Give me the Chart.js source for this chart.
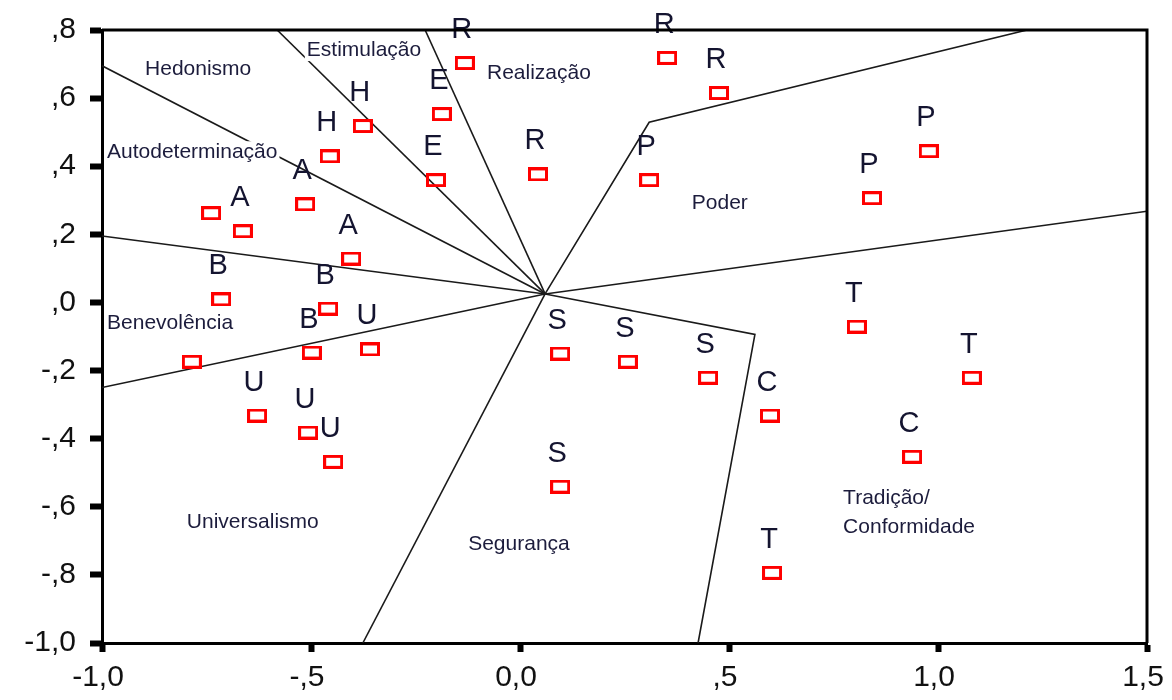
<!DOCTYPE html>
<html>
<head>
<meta charset="utf-8">
<script src="https://cdn.jsdelivr.net/npm/chart.js@4"></script>
<style>
  html, body { margin: 0; padding: 0; background: #fff; }
  #wrap { width: 1172px; height: 700px; }
</style>
</head>
<body>
<div id="wrap"><canvas id="chart" width="1172" height="700"></canvas></div>
<script>
// axis ticks
const xTickValues = [-1.0, -0.5, 0.0, 0.5, 1.0, 1.5];
const xTickLabels = ['-1,0', '-,5', '0,0', ',5', '1,0', '1,5'];
const yTickValues = [-1.0, -0.8, -0.6, -0.4, -0.2, 0.0, 0.2, 0.4, 0.6, 0.8];
const yTickLabels = ['-1,0', '-,8', '-,6', '-,4', '-,2', ',0', ',2', ',4', ',6', ',8'];

// points (value items) and their letters
const pointX = [-0.739, -0.663, -0.514, -0.404, -0.455, -0.376, -0.201, -0.187,
  -0.132, 0.043, 0.352, 0.476, 0.309, 0.842, 0.978,
  -0.715, -0.459, -0.498, -0.785, -0.359, -0.629, -0.507, -0.447,
  0.096, 0.258, 0.450, 0.096, 0.598, 0.938, 0.806, 1.081, 0.603];
const pointY = [0.262, 0.209, 0.288, 0.129, 0.429, 0.518, 0.359, 0.553,
  0.703, 0.376, 0.718, 0.615, 0.359, 0.306, 0.444,
  0.009, -0.018, -0.147, -0.174, -0.138, -0.332, -0.382, -0.468,
  -0.150, -0.174, -0.221, -0.541, -0.332, -0.453, -0.071, -0.221, -0.794];
const pointLetter = ['', 'A', 'A', 'A', 'H', 'H', 'E', 'E',
  'R', 'R', 'R', 'R', 'P', 'P', 'P',
  'B', 'B', 'B', '', 'U', 'U', 'U', 'U',
  'S', 'S', 'S', 'S', 'C', 'C', 'T', 'T', 'T'];

// region boundaries
const centerPt = [0.06, 0.025];
const lineAutoHedon = [[-1.0, 0.695], centerPt];
const lineHedonEstim = [[-0.581, 0.8], centerPt];
const lineEstimReal = [[-0.227, 0.8], centerPt];
const lineRealPoder = [centerPt, [0.309, 0.529], [1.213, 0.8]];
const linePoderTrad = [centerPt, [1.5, 0.268]];
const lineTradSeg = [centerPt, [0.562, -0.094], [0.426, -1.0]];
const lineSegUniv = [centerPt, [-0.376, -1.0]];
const lineUnivBenev = [[-1.0, -0.25], centerPt];
const lineBenevAuto = [[-1.0, 0.195], centerPt];

// region names (left edge, middle)
const regionNames = ['Hedonismo', 'Estimulação', 'Autodeterminação', 'Realização', 'Poder',
  'Benevolência', 'Universalismo', 'Segurança', 'Tradição/', 'Conformidade'];
const regionX = [-0.897, -0.510, -0.988, -0.079, 0.411, -0.988, -0.797, -0.124, 0.773, 0.773];
const regionY = [0.685, 0.741, 0.441, 0.674, 0.291, -0.062, -0.644, -0.709, -0.576, -0.659];

// red hollow box marker
const marker = document.createElement('canvas');
marker.width = 20;
marker.height = 14;
const mctx = marker.getContext('2d');
mctx.strokeStyle = '#ff0000';
mctx.lineWidth = 3;
mctx.strokeRect(1.5, 1.5, 17, 11);

const toXY = pts => pts.map(p => ({ x: p[0], y: p[1] }));
const boundaryLines = [lineAutoHedon, lineHedonEstim, lineEstimReal, lineRealPoder,
  linePoderTrad, lineTradSeg, lineSegUniv, lineUnivBenev, lineBenevAuto];

const lineSets = boundaryLines.map(l => ({
  data: toXY(l),
  showLine: true,
  borderColor: '#1a1a1a',
  borderWidth: 1.6,
  pointRadius: 0,
  fill: false,
  order: 2
}));

const pointSet = {
  data: pointX.map((x, i) => ({ x: x, y: pointY[i] })),
  pointStyle: marker,
  pointRadius: 8,
  showLine: false,
  order: 1
};

const textPlugin = {
  id: 'textPlugin',
  afterDatasetsDraw(chart) {
    const ctx = chart.ctx;
    const xs = chart.scales.x, ys = chart.scales.y;
    ctx.save();
    // region names with white backing
    ctx.font = '21px "Liberation Sans", Arial, sans-serif';
    ctx.textAlign = 'left';
    ctx.textBaseline = 'middle';
    regionNames.forEach((name, i) => {
      const px = xs.getPixelForValue(regionX[i]);
      const py = ys.getPixelForValue(regionY[i]);
      const w = ctx.measureText(name).width;
      ctx.fillStyle = '#ffffff';
      ctx.fillRect(px - 2, py - 11, w + 4, 22);
      ctx.fillStyle = '#1c1c3c';
      ctx.fillText(name, px, py);
    });
    // letters above the boxes
    ctx.font = '29px "Liberation Sans", Arial, sans-serif';
    ctx.textAlign = 'center';
    ctx.fillStyle = '#141430';
    const meta = chart.getDatasetMeta(chart.data.datasets.length - 1);
    meta.data.forEach((el, i) => {
      if (pointLetter[i]) ctx.fillText(pointLetter[i], el.x - 3, el.y - 33);
    });
    // top and right frame
    const a = chart.chartArea;
    ctx.strokeStyle = '#000';
    ctx.lineWidth = 3;
    ctx.beginPath();
    ctx.moveTo(a.left, a.top);
    ctx.lineTo(a.right, a.top);
    ctx.lineTo(a.right, a.bottom);
    ctx.stroke();
    ctx.restore();
  }
};

new Chart(document.getElementById('chart'), {
  type: 'scatter',
  data: { datasets: [...lineSets, pointSet] },
  options: {
    responsive: false,
    animation: false,
    layout: { padding: { top: 30, right: 25, left: 0, bottom: 0 } },
    plugins: { legend: { display: false }, tooltip: { enabled: false } },
    scales: {
      x: {
        type: 'linear',
        min: -1.0,
        max: 1.5,
        afterBuildTicks: s => { s.ticks = xTickValues.map(v => ({ value: v })); },
        afterFit: s => { s.height = 57; s.paddingLeft = 0; s.paddingRight = 0; },
        ticks: {
          color: '#111',
          padding: 8,
          labelOffset: -4,
          maxRotation: 0,
          font: { family: '"Liberation Sans", Arial, sans-serif', size: 30 },
          callback: (value, index) => xTickLabels[index]
        },
        grid: { drawOnChartArea: false, tickLength: 9, tickWidth: 6, tickColor: '#000' },
        border: { display: true, color: '#000', width: 3 }
      },
      y: {
        type: 'linear',
        min: -1.0,
        max: 0.8,
        afterBuildTicks: s => { s.ticks = yTickValues.map(v => ({ value: v })); },
        afterFit: s => { s.width = 102; s.paddingTop = 0; s.paddingBottom = 0; },
        ticks: {
          color: '#111',
          padding: 14,
          font: { family: '"Liberation Sans", Arial, sans-serif', size: 30 },
          callback: (value, index) => yTickLabels[index]
        },
        grid: { drawOnChartArea: false, tickLength: 12, tickWidth: 6, tickColor: '#000' },
        border: { display: true, color: '#000', width: 3 }
      }
    }
  },
  plugins: [textPlugin]
});
</script>
</body>
</html>
